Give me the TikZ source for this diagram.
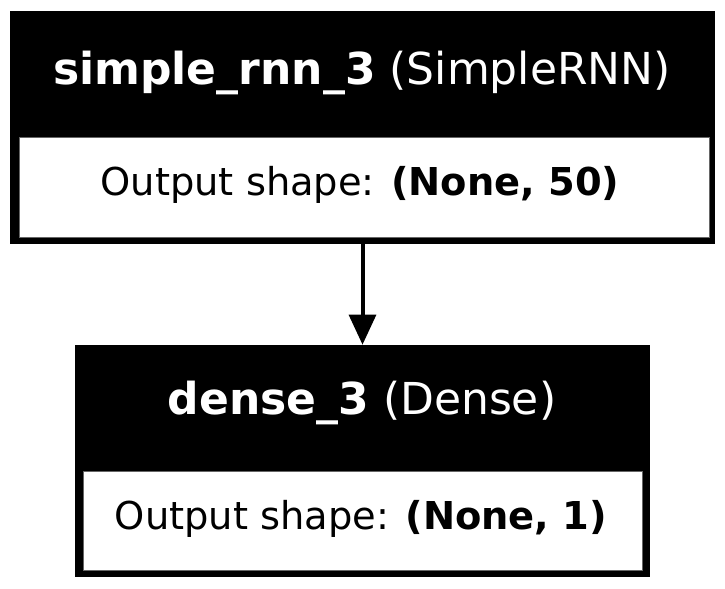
\documentclass[tikz,border=0pt]{standalone}
\usepackage{fontspec}
\setmainfont{DejaVu Sans}
\usetikzlibrary{arrows.meta}
\tikzset{
  layer/.style={fill=black,inner sep=0pt},
  outbox/.style={fill=white,draw=black!60,line width=0.4pt,inner sep=0pt},
  head/.style={text=white,inner sep=0pt,anchor=base,font=\fontsize{33}{40}\selectfont},
  outtext/.style={inner sep=0pt,anchor=base,font=\fontsize{28.8}{35}\selectfont},
  link/.style={line width=3pt,-{Triangle[length=22.5pt,width=20pt]}}
}
\begin{document}
\begin{tikzpicture}[x=0.75pt,y=-0.75pt]
\useasboundingbox (0,0) rectangle (725,589);
% first layer
\node[layer,minimum width=528.75pt,minimum height=174.75pt] (rnn) at (362.5,127.5) {};
\node[head] (rnnname) at (362,84) {\textbf{simple\_rnn\_3} (SimpleRNN)};
\node[outbox,minimum width=517.5pt,minimum height=75pt] (rnnout) at (364,187) {};
\node[outtext] (rnnshape) at (360,195) {Output shape: \textbf{(None, 50)}};
% second layer
\node[layer,minimum width=431.25pt,minimum height=174pt] (dense) at (362.5,461) {};
\node[head] (densename) at (362,414) {\textbf{dense\_3} (Dense)};
\node[outbox,minimum width=419.25pt,minimum height=74.25pt] (denseout) at (362.5,520.5) {};
\node[outtext] (denseshape) at (361,529) {Output shape: \textbf{(None, 1)}};
\draw[link] (rnn.south) -- (dense.north);
\end{tikzpicture}
\end{document}
